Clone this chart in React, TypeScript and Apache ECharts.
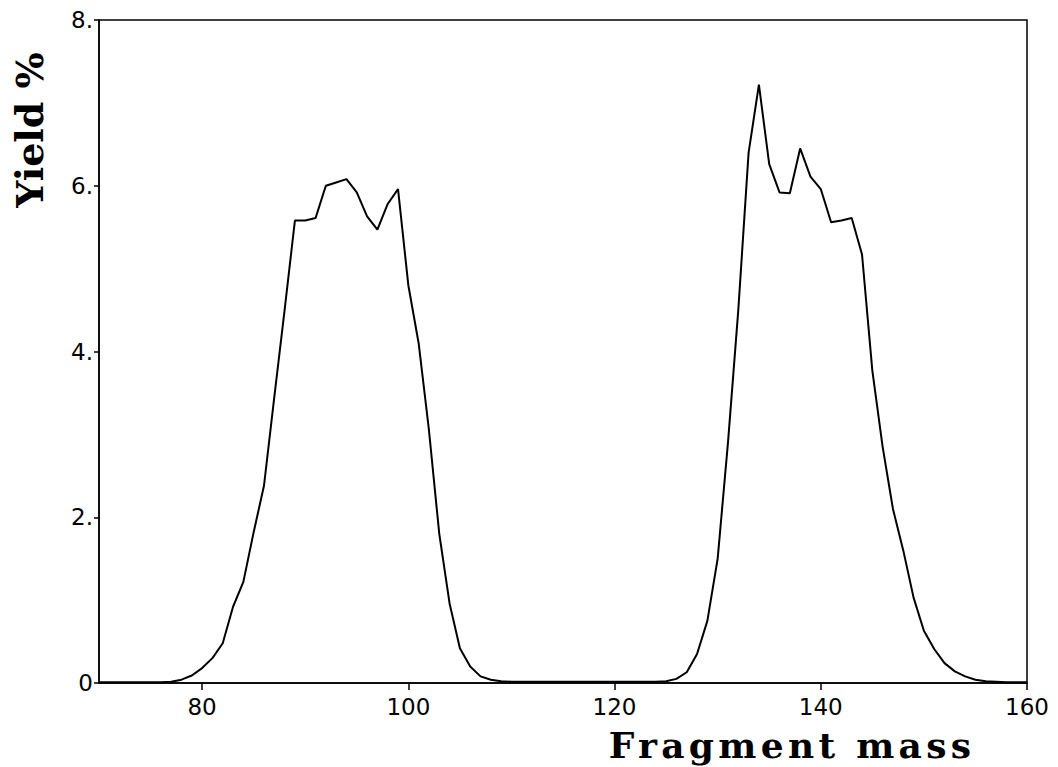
import React, { useEffect, useRef } from "react";
import * as echarts from "echarts";

// Fragment mass (x) and yield % (y)
const masses: number[] = [
  70, 71, 72, 73, 74, 75, 76, 77, 78, 79,
  80, 81, 82, 83, 84, 85, 86, 87, 88, 89,
  90, 91, 92, 93, 94, 95, 96, 97, 98, 99,
  100, 101, 102, 103, 104, 105, 106, 107, 108, 109,
  110, 111, 112, 113, 114, 115, 116, 117, 118, 119,
  120, 121, 122, 123, 124, 125, 126, 127, 128, 129,
  130, 131, 132, 133, 134, 135, 136, 137, 138, 139,
  140, 141, 142, 143, 144, 145, 146, 147, 148, 149,
  150, 151, 152, 153, 154, 155, 156, 157, 158, 159,
  160,
];

const yields: number[] = [
  0.01, 0.01, 0.01, 0.01, 0.01, 0.01, 0.01, 0.015, 0.04, 0.09,
  0.18, 0.3, 0.48, 0.92, 1.22, 1.82, 2.38, 3.45, 4.5, 5.58,
  5.58, 5.61, 6.0, 6.04, 6.08, 5.92, 5.63, 5.47, 5.78, 5.96,
  4.8, 4.1, 3.05, 1.8, 0.96, 0.42, 0.2, 0.08, 0.04, 0.02,
  0.015, 0.015, 0.015, 0.015, 0.015, 0.015, 0.015, 0.015, 0.015, 0.015,
  0.015, 0.015, 0.015, 0.015, 0.015, 0.02, 0.05, 0.13, 0.35, 0.75,
  1.5, 2.9, 4.5, 6.4, 7.22, 6.26, 5.92, 5.91, 6.45, 6.11,
  5.96, 5.56, 5.58, 5.61, 5.17, 3.77, 2.85, 2.1, 1.6, 1.03,
  0.63, 0.41, 0.24, 0.14, 0.08, 0.04, 0.02, 0.015, 0.01, 0.01,
  0.01,
];

const xTickValues: number[] = [80, 100, 120, 140, 160];
const yTickValues: number[] = [0, 2, 4, 6, 8];

const xTitle = "Fragment mass";
const yTitle = "Yield %";

export default function App() {
  const ref = useRef<HTMLDivElement>(null);

  useEffect(() => {
    if (!ref.current) return;
    const chart = echarts.init(ref.current, undefined, { renderer: "svg" });
    const data = masses.map((m, i) => [m, yields[i]]);
    const labelFont = "'DejaVu Sans', 'Liberation Sans', sans-serif";
    const titleFont = "'DejaVu Serif', 'Liberation Serif', serif";

    chart.setOption({
      animation: false,
      backgroundColor: "#ffffff",
      grid: {
        left: 99,
        top: 20,
        right: 31,
        bottom: 84,
        show: true,
        borderColor: "#000",
        borderWidth: 1.5,
        backgroundColor: "transparent",
      },
      xAxis: {
        type: "value",
        min: 70,
        max: 160,
        axisLine: { show: true, onZero: false, lineStyle: { color: "#000", width: 1.5 } },
        axisTick: {
          show: true,
          inside: false,
          length: 7,
          customValues: xTickValues,
          lineStyle: { color: "#000", width: 1.5 },
        },
        axisLabel: {
          customValues: xTickValues,
          color: "#000",
          fontFamily: labelFont,
          fontSize: 23,
          margin: 12,
        },
        splitLine: { show: false },
      },
      yAxis: {
        type: "value",
        min: 0,
        max: 8,
        interval: 2,
        axisLine: { show: true, lineStyle: { color: "#000", width: 1.5 } },
        axisTick: {
          show: true,
          inside: false,
          length: 5,
          lineStyle: { color: "#000", width: 1.5 },
        },
        axisLabel: {
          customValues: yTickValues,
          color: "#000",
          fontFamily: labelFont,
          fontSize: 23,
          margin: 6,
          formatter: (v: number) => (v === 0 ? "0" : `${v}.`),
        },
        splitLine: { show: false },
      },
      graphic: [
        {
          type: "text",
          x: 29,
          y: 130,
          rotation: Math.PI / 2,
          style: {
            text: yTitle,
            fill: "#000",
            font: `bold 38px ${titleFont}`,
            textAlign: "center",
            textVerticalAlign: "middle",
          },
        },
        {
          type: "text",
          x: 792,
          y: 745,
          style: {
            text: xTitle,
            fill: "#000",
            font: `bold 36px ${titleFont}`,
            textAlign: "center",
            textVerticalAlign: "middle",
          },
        },
      ],
      series: [
        {
          type: "line",
          data,
          symbol: "none",
          smooth: false,
          lineStyle: { color: "#000", width: 2 },
        },
      ],
    });

    return () => {
      chart.dispose();
    };
  }, []);

  return (
    <>
      <style>{`svg text[style*="36px"] { letter-spacing: 4.3px; }`}</style>
      <div
        ref={ref}
        style={{ position: "fixed", left: 0, top: 0, width: 1058, height: 767, background: "#fff" }}
      />
    </>
  );
}
